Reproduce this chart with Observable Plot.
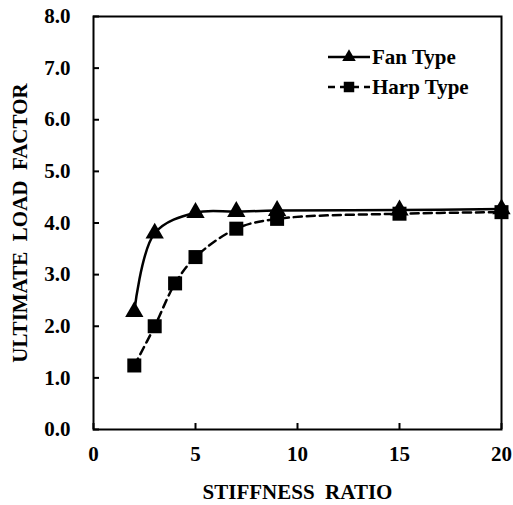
<!DOCTYPE html>
<html><head><meta charset="utf-8">
<script src="https://cdn.jsdelivr.net/npm/d3@7"></script>
<script src="https://cdn.jsdelivr.net/npm/@observablehq/plot@0.6"></script>
<style>
body{margin:0;background:#fff}
</style>
</head><body><div id="chart"></div><script>
// Data
const stiffnessFan = [2, 3, 5, 7, 9, 15, 20];
const fanType = [2.28, 3.8, 4.2, 4.22, 4.24, 4.25, 4.27];
const stiffnessHarp = [2, 3, 4, 5, 7, 9, 15, 20];
const harpType = [1.24, 2.0, 2.83, 3.34, 3.89, 4.08, 4.18, 4.21];
const xTicks = [0, 5, 10, 15, 20];
const yTicks = [0, 1, 2, 3, 4, 5, 6, 7, 8];
const seriesNames = ["Fan Type", "Harp Type"];

const fan = stiffnessFan.map((x, i) => ({x, y: fanType[i]}));
const harp = stiffnessHarp.map((x, i) => ({x, y: harpType[i]}));

const FONT = '"Liberation Serif","Times New Roman",serif';
const W = 513, H = 505, ML = 93, MR = 12, MT = 16, MB = 76;
const plotW = W - ML - MR, plotH = H - MT - MB;

const chart = Plot.plot({
  width: W,
  height: H,
  marginLeft: ML,
  marginRight: MR,
  marginTop: MT,
  marginBottom: MB,
  style: {fontFamily: FONT, fontSize: "21px", fontWeight: "bold", color: "black", background: "white", overflow: "visible"},
  x: {domain: [0, 20]},
  y: {domain: [0, 8]},
  marks: [
    Plot.axisY(yTicks, {tickSize: 0, tickPadding: 23, tickFormat: d => d.toFixed(1), label: "ULTIMATE\u00a0 LOAD\u00a0 FACTOR", labelAnchor: "center", labelArrow: "none", labelOffset: 81}),
    Plot.ruleY(yTicks, {y: d => d, insetRight: plotW - 6, stroke: "black", strokeWidth: 2}),
    Plot.axisX(xTicks, {tickSize: 0, tickPadding: 17, tickFormat: d => String(d), label: "STIFFNESS\u00a0 RATIO", labelAnchor: "center", labelArrow: "none", labelOffset: 69}),
    Plot.ruleX(xTicks, {x: d => d, insetTop: plotH - 6, stroke: "black", strokeWidth: 2}),
    Plot.line(harp, {x: "x", y: "y", curve: "catmull-rom", stroke: "black", strokeWidth: 2.5, strokeDasharray: "8,5"}),
    Plot.line(fan, {x: "x", y: "y", curve: "catmull-rom", stroke: "black", strokeWidth: 2.5}),
    Plot.dot(harp, {x: "x", y: "y", symbol: "square", r: 7.9, fill: "black", stroke: "none"}),
    Plot.dot(fan, {x: "x", y: "y", symbol: "triangle", r: 6.8, fill: "black", stroke: "none"}),
    Plot.frame({stroke: "black", strokeWidth: 2})
  ]
});
document.getElementById("chart").append(chart);

// Legend
const svg = d3.select(chart);
const lg = svg.append("g").attr("font-family", FONT).attr("font-weight", "bold").attr("font-size", "21px").attr("text-anchor", "start");
const legendStyles = [
  {dash: null, sym: d3.symbolTriangle, size: 80},
  {dash: "7,5", sym: d3.symbolSquare, size: 110}
];
seriesNames.forEach((name, i) => {
  const cy = 57 + i * 30;
  const st = legendStyles[i];
  lg.append("line").attr("x1", 328).attr("x2", 370).attr("y1", cy).attr("y2", cy)
    .attr("stroke", "black").attr("stroke-width", 2.5).attr("stroke-dasharray", st.dash);
  lg.append("path").attr("d", d3.symbol(st.sym, st.size)()).attr("transform", `translate(349,${cy})`).attr("fill", "black");
  lg.append("text").attr("x", 372).attr("y", cy + 7).attr("fill", "black").attr("text-anchor", "start").text(name);
});
</script></body></html>
